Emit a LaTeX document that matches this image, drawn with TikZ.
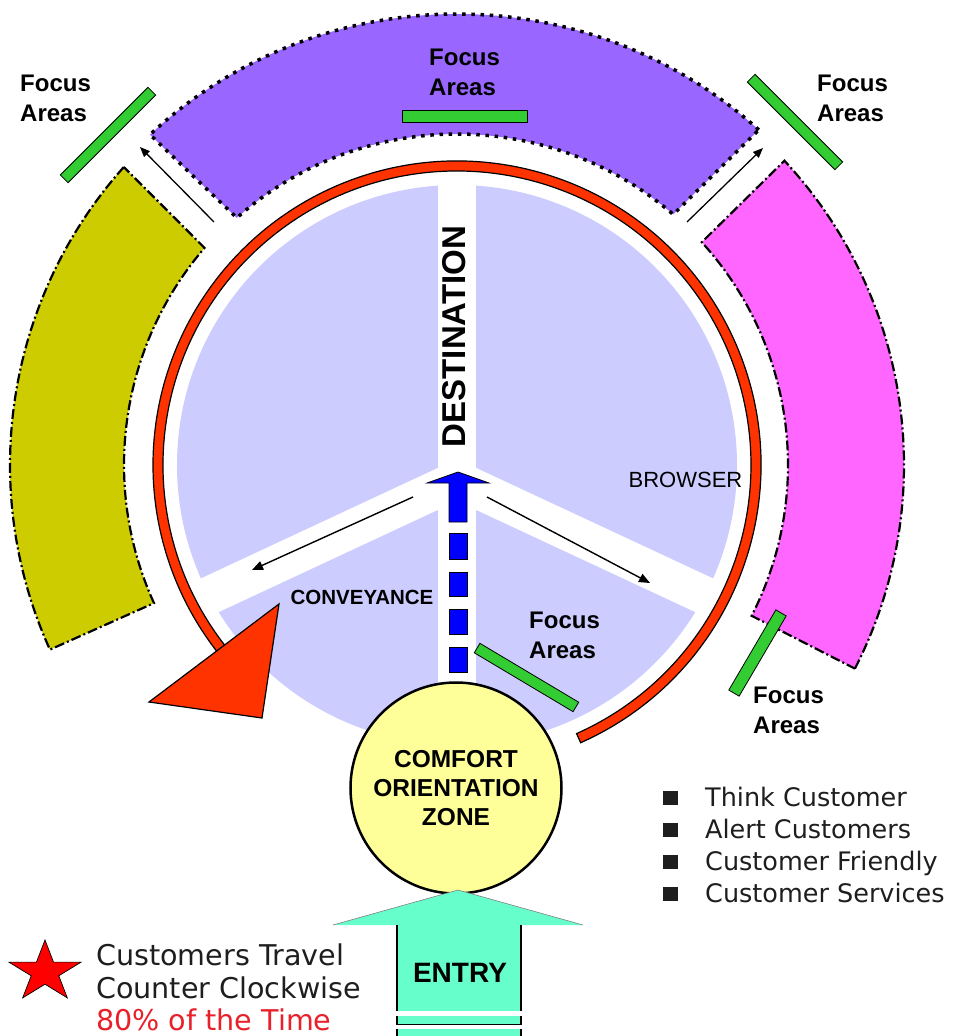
\documentclass[tikz,border=0pt]{standalone}
\usepackage{fontspec}
\setmainfont{Liberation Sans}
\newfontfamily\listfont{DejaVu Sans}
\usetikzlibrary{arrows.meta}

\definecolor{purpleBand}{HTML}{9966FF}
\definecolor{oliveBand}{HTML}{CCCC00}
\definecolor{pinkBand}{HTML}{FF66FF}
\definecolor{ringRed}{HTML}{FF3300}
\definecolor{barGreen}{HTML}{33CC33}
\definecolor{diskLav}{HTML}{CCCCFF}
\definecolor{zoneYellow}{HTML}{FFFF99}
\definecolor{entryAqua}{HTML}{66FFCC}
\definecolor{flowBlue}{HTML}{0000FF}
\definecolor{starRed}{HTML}{FF0000}
\definecolor{noteRed}{HTML}{E8202A}
\definecolor{noteInk}{HTML}{1E1E1E}

\newcommand{\fsz}[2]{\fontsize{#1}{#2}\selectfont}

\tikzset{
  dashdotedge/.style={draw=black, line width=2.2pt, dash pattern=on 10pt off 3pt on 2pt off 3pt},
  dotedge/.style={draw=black, line width=3.5pt, dash pattern=on 3.5pt off 5.7pt},
  focusbar/.style={rectangle, draw=black, line width=0.8pt, fill=barGreen, inner sep=0pt},
  focuslabel/.style={font=\bfseries\fsz{24}{30}, align=left, inner sep=0pt, anchor=north west},
  flowarrow/.style={draw=black, line width=1.4pt, -{Triangle[length=11pt,width=9pt]}},
  spoke/.style={draw=white, line width=38pt},
  listitem/.style={font=\listfont\fsz{25.5}{32}, text=noteInk, inner sep=0pt, anchor=base west},
  noteline/.style={font=\listfont\fsz{28.6}{33}, inner sep=0pt, anchor=base west},
}

\begin{document}
\begin{tikzpicture}[x=1pt,y=1pt]
\useasboundingbox (-457,-571) rectangle (506,465);

% outer stage bands
\path[fill=purpleBand, dotedge] (48:451) arc[start angle=48, end angle=132.9, radius=451]
  -- (131.7:331) arc[start angle=131.7, end angle=49.2, radius=331] -- cycle;
\path[fill=oliveBand, dashdotedge] (138.2:447) arc[start angle=138.2, end angle=204.4, radius=447]
  -- (204.5:333) arc[start angle=204.5, end angle=139.3, radius=333] -- cycle;
\path[fill=pinkBand, dashdotedge] (-27.1:447) arc[start angle=-27.1, end angle=42.9, radius=447]
  -- (42.3:331) arc[start angle=42.3, end angle=-27.1, radius=331] -- cycle;

% arrows through the gaps between bands
\coordinate (la1) at (-243,243);
\coordinate (la2) at (-317,318);
\coordinate (ra1) at (230,243);
\coordinate (ra2) at (306,317);
\draw[flowarrow, line width=1.3pt, -{Triangle[length=10pt,width=8pt]}] (la1) -- (la2);
\draw[flowarrow, line width=1.3pt, -{Triangle[length=10pt,width=8pt]}] (ra1) -- (ra2);

% focus bars around the top
\node[focusbar, minimum width=124pt, minimum height=11pt, rotate=45] (barTL) at (-349,330) {};
\node[focusbar, minimum width=125pt, minimum height=12pt] (barTC) at (7.5,349) {};
\node[focusbar, minimum width=124pt, minimum height=11pt, rotate=-45] (barTR) at (338,343) {};

\node[focuslabel] (lblTL) at (-437,390) {Focus\\Areas};
\node[focuslabel] (lblTC) at (-28,416) {Focus\\Areas};
\node[focuslabel] (lblTR) at (360,390) {Focus\\Areas};

% red travel ring
\path[fill=ringRed, draw=black, line width=1.2pt] (-66:304) arc[start angle=-66, end angle=219, radius=304]
  -- (219:294) arc[start angle=219, end angle=-66, radius=294] -- cycle;

% central disk with its spokes
\fill[diskLav] (0,0) circle[radius=280];
\begin{scope}
  \clip (0,0) circle[radius=282];
  \draw[spoke] (0,-290) -- (0,290);
  \draw[spoke] (0,-15) -- ++(205:330);
  \draw[spoke] (0,-15) -- ++(-25:330);
\end{scope}

\node[font=\bfseries\fsz{33}{36}, rotate=90, inner sep=0pt] (dest) at (-3,128.5) {DESTINATION};
\node[font=\bfseries\fsz{20.5}{24}, inner sep=0pt, anchor=base] (conv) at (-95,-139) {CONVEYANCE};
\node[font=\fsz{22}{26}, inner sep=0pt, anchor=base] (brow) at (228.5,-22) {BROWSER};

% branch arrows from the hub
\coordinate (cl1) at (-44,-32);
\coordinate (cl2) at (-205,-105);
\coordinate (br1) at (30,-32);
\coordinate (br2) at (193,-118);
\draw[flowarrow] (cl1) -- (cl2);
\draw[flowarrow] (br1) -- (br2);

% blue dashed arrow up to the hub
\draw[fill=flowBlue, line width=0.8pt, line join=miter] (1,-7) -- (32,-18) -- (10,-18) -- (10,-57)
  -- (-8,-57) -- (-8,-18) -- (-30,-18) -- cycle;
\foreach \yt/\yb in {-68/-94, -107/-131, -144/-169, -182/-207}
  \draw[fill=flowBlue, line width=0.8pt] (-8,\yt) rectangle (10,\yb);

% inner focus bar
\node[focusbar, minimum width=115pt, minimum height=11pt, rotate=-30.8] (barIn) at (69.5,-212.5) {};
\node[focuslabel] (lblIn) at (72,-147) {Focus\\Areas};

% arrowhead of the travel ring
\draw[fill=ringRed, line width=1.2pt, line join=miter] (-308,-237) -- (-178,-139) -- (-195,-253) -- cycle;

% comfort orientation zone
\node[circle, draw=black, line width=2.5pt, fill=zoneYellow, minimum size=211pt, inner sep=0pt,
      font=\bfseries\fsz{24.5}{29}, align=center] (zone) at (-1,-323) {COMFORT\\ORIENTATION\\ZONE};

% entry arrow
\path[fill=entryAqua] (1,-425) -- (126,-460) -- (64,-460) -- (64,-571) -- (-60,-571) -- (-60,-460) -- (-124,-460) -- cycle;
\draw[gray, line width=0.6pt] (-124,-460) -- (1,-425) -- (126,-460);
\draw[black, line width=1.2pt] (-60,-460) -- (-60,-571);
\draw[black, line width=1.2pt] (64,-460) -- (64,-571);
\fill[white] (-62,-546) rectangle (66,-550.5);
\fill[white] (-62,-560) rectangle (66,-564);
\draw[black, line width=1pt] (-60,-559.3) -- (64,-559.3);
\node[font=\bfseries\fsz{28}{32}, inner sep=0pt, anchor=base] (entry) at (3,-517) {ENTRY};

% lower right focus bar
\node[focusbar, minimum width=93pt, minimum height=12pt, rotate=59.6] (barBR) at (300.5,-188) {};
\node[focuslabel] (lblBR) at (296,-222) {Focus\\Areas};

% customer list
\foreach \yb in {-341,-373,-405,-437}
  \fill[noteInk] (206,\yb+1) rectangle ++(14.5,14.5);
\node[listitem] (item1) at (248,-341) {Think Customer};
\node[listitem] (item2) at (248,-373) {Alert Customers};
\node[listitem] (item3) at (248,-405) {Customer Friendly};
\node[listitem] (item4) at (248,-437) {Customer Services};

% note with star
\begin{scope}[shift={(-412,-507)}]
  \draw[fill=starRed, line width=0.7pt, line join=miter]
    (90:38pt and 32pt) -- (126:14.5pt and 12.2pt) -- (162:38pt and 32pt) -- (198:14.5pt and 12.2pt)
    -- (234:38pt and 32pt) -- (270:14.5pt and 12.2pt) -- (306:38pt and 32pt) -- (342:14.5pt and 12.2pt)
    -- (18:38pt and 32pt) -- (54:14.5pt and 12.2pt) -- cycle;
\end{scope}
\node[noteline, text=noteInk] (note1) at (-361,-500) {Customers Travel};
\node[noteline, text=noteInk] (note2) at (-361,-533) {Counter Clockwise};
\node[noteline, text=noteRed] (note3) at (-361,-565) {80\% of the Time};
\end{tikzpicture}
\end{document}
